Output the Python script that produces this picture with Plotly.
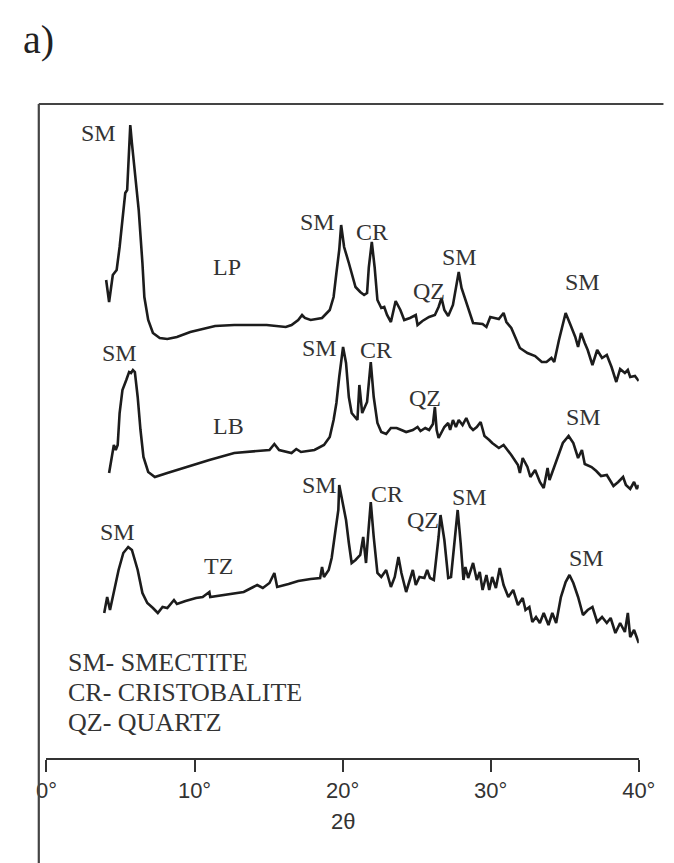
import plotly.graph_objects as go

# ---------------- data (2-theta in degrees, intensity in arbitrary offset units) ----------------
lp_2theta = [4.03, 4.23, 4.48, 4.74, 4.94, 5.19, 5.32, 5.45, 5.58, 5.66, 5.77, 6.03, 6.23, 6.48, 6.61,
             6.87, 7.19, 7.65, 8.16, 8.81, 9.71, 11.39, 12.68, 14.87, 16.16, 16.55, 17.0, 17.26, 17.45,
             17.84, 18.61, 19.13, 19.39, 19.58, 19.77, 19.90, 20.10, 20.42, 20.87, 21.19, 21.45, 21.65,
             21.77, 21.97, 22.16, 22.35, 22.61, 22.81, 23.0, 23.26, 23.58, 23.90, 24.16, 24.55, 24.94,
             25.06, 25.39, 25.84, 26.23, 26.48, 26.68, 26.87, 27.13, 27.45, 27.65, 27.84, 28.03, 28.29,
             28.48, 28.81, 29.45, 29.71, 29.97, 30.55, 30.87, 31.06, 31.39, 31.65, 31.97, 32.48, 33.0,
             33.45, 33.77, 34.10, 34.29, 34.61, 34.87, 35.06, 35.39, 35.71, 35.90, 36.10, 36.35, 36.55,
             36.87, 37.19, 37.52, 37.84, 38.16, 38.48, 38.74, 39.06, 39.26, 39.42, 39.74, 40.0]
lp_counts = [583, 561, 588, 593, 616, 650, 670, 673, 716, 738, 720, 683, 653, 600, 566,
             543, 530, 525, 524, 526, 531, 537, 538, 538, 536, 538, 543, 548, 545,
             543, 545, 553, 566, 590, 613, 638, 616, 600, 576, 571, 568, 570,
             596, 621, 596, 563, 555, 556, 548, 541, 562, 553, 543, 545, 548,
             538, 542, 546, 548, 556, 565, 553, 547, 558, 576, 591, 575, 563,
             553, 540, 539, 536, 546, 544, 550, 541, 535, 526, 515, 510, 507,
             501, 501, 505, 501, 523, 538, 550, 538, 526, 516, 530, 520, 513,
             498, 513, 505, 508, 496, 481, 494, 490, 493, 486, 487, 482]

lb_2theta = [4.23, 4.48, 4.55, 4.68, 4.81, 4.94, 5.13, 5.39, 5.58, 5.71, 5.84, 5.97, 6.16, 6.35, 6.55,
             6.87, 7.32, 8.16, 9.45, 11.0, 12.68, 14.42, 15.06, 15.39, 15.71, 16.55, 16.87, 17.19,
             18.10, 18.74, 19.13, 19.39, 19.58, 19.77, 20.03, 20.23, 20.42, 20.61, 20.87, 21.0, 21.13,
             21.32, 21.65, 21.90, 22.10, 22.35, 22.61, 22.94, 23.26, 23.65, 23.97, 24.29, 24.74, 25.06,
             25.26, 25.58, 25.84, 26.10, 26.23, 26.35, 26.48, 26.68, 26.87, 27.13, 27.26, 27.45, 27.65,
             27.84, 28.10, 28.35, 28.61, 28.81, 29.06, 29.32, 29.58, 29.90, 30.10, 30.55, 30.87, 31.39,
             31.84, 31.97, 32.16, 32.48, 32.68, 33.0, 33.32, 33.58, 33.84, 33.97, 34.23, 34.55, 34.87,
             35.26, 35.58, 35.90, 36.16, 36.35, 36.81, 37.13, 37.45, 37.84, 38.29, 38.61, 38.94, 39.13,
             39.42, 39.68, 39.87, 40.0]
lb_counts = [390, 410, 418, 413, 418, 450, 473, 483, 491, 490, 493, 491, 466, 433, 406,
             391, 386, 390, 396, 403, 410, 412, 413, 419, 413, 410, 414, 411,
             413, 418, 426, 443, 460, 486, 516, 500, 466, 450, 445, 443, 478,
             450, 461, 501, 466, 440, 431, 429, 435, 435, 433, 431, 433, 436,
             432, 435, 433, 439, 456, 433, 425, 430, 436, 440, 433, 443, 436,
             443, 438, 445, 436, 433, 436, 441, 427, 423, 420, 415, 418, 408,
             398, 390, 405, 396, 386, 393, 381, 375, 395, 383, 394, 408, 420,
             427, 420, 405, 413, 399, 396, 392, 387, 388, 377, 381, 386, 378,
             374, 381, 374, 378]

tz_2theta = [3.90, 4.10, 4.29, 4.55, 4.87, 5.19, 5.52, 5.77, 6.16, 6.48, 6.81, 7.19, 7.52, 7.84, 8.16,
             8.61, 8.81, 9.39, 10.10, 10.55, 11.0, 11.06, 12.03, 12.68, 13.32, 13.97, 14.23, 14.61,
             15.06, 15.39, 15.58, 16.35, 17.0, 17.84, 18.48, 18.61, 18.74, 19.06, 19.26, 19.52, 19.71,
             19.77, 19.97, 20.23, 20.42, 20.61, 20.87, 21.19, 21.39, 21.58, 21.71, 21.90, 22.10, 22.35,
             22.61, 22.94, 23.26, 23.52, 23.77, 23.97, 24.29, 24.55, 24.74, 24.94, 25.19, 25.52, 25.71,
             25.90, 26.16, 26.48, 26.61, 26.87, 27.13, 27.32, 27.52, 27.77, 27.97, 28.16, 28.29, 28.48,
             28.81, 29.06, 29.26, 29.45, 29.71, 29.90, 30.10, 30.35, 30.61, 30.87, 31.19, 31.52, 31.84,
             32.16, 32.35, 32.61, 32.81, 33.06, 33.32, 33.58, 33.90, 34.16, 34.42, 34.74, 35.06, 35.32,
             35.58, 35.90, 36.23, 36.55, 36.87, 37.19, 37.52, 37.84, 38.10, 38.42, 38.74, 39.06, 39.26,
             39.42, 39.68, 40.0]
tz_counts = [250, 266, 253, 270, 293, 310, 316, 313, 293, 270, 260, 255, 250, 256, 255,
             263, 259, 262, 265, 266, 271, 266, 268, 270, 271, 276, 278, 275,
             280, 290, 276, 279, 282, 284, 285, 296, 286, 293, 305, 333, 353,
             378, 361, 343, 320, 300, 303, 308, 326, 300, 326, 361, 326, 290,
             286, 293, 276, 286, 306, 290, 271, 285, 293, 278, 286, 285, 293,
             285, 283, 326, 348, 323, 285, 286, 316, 353, 320, 283, 296, 285,
             300, 283, 291, 273, 288, 273, 286, 275, 295, 278, 266, 273, 258,
             265, 253, 256, 241, 246, 240, 250, 238, 250, 240, 266, 281, 288,
             280, 266, 248, 253, 256, 241, 246, 240, 245, 230, 240, 231, 250,
             226, 233, 220]

# peak labels: (text, 2theta, intensity)
peak_text = ["SM", "SM", "CR", "QZ", "SM", "SM", "LP",
             "SM", "SM", "CR", "QZ", "SM", "LB",
             "SM", "SM", "CR", "QZ", "SM", "SM", "TZ"]
peak_x = [3.50, 18.32, 22.0, 25.83, 27.9, 36.18, 12.17,
          4.92, 18.45, 22.27, 25.57, 36.25, 12.3,
          4.79, 18.45, 22.98, 25.44, 28.54, 36.44, 11.65]
peak_y = [730, 641, 631, 572, 606, 581, 596,
          510, 515, 513, 465, 446, 437,
          331, 378, 369, 343, 366, 305, 297]

key_lines = ["SM- SMECTITE", "CR- CRISTOBALITE", "QZ- QUARTZ"]
tick_vals = [0, 10, 20, 30, 40]
tick_text = ["0°", "10°", "20°", "30°", "40°"]
x_title = "2θ"

W, H = 674, 863
LINE = "#1c1c1c"
TXT = "#333333"
SERIF = "Liberation Serif, Times New Roman, serif"
SANS = "Liberation Sans, Arial, sans-serif"

fig = go.Figure()
for xs, ys, name in [(lp_2theta, lp_counts, "LP"), (lb_2theta, lb_counts, "LB"), (tz_2theta, tz_counts, "TZ")]:
    fig.add_trace(go.Scatter(x=xs, y=ys, mode="lines", name=name,
                             line=dict(color=LINE, width=2.6), showlegend=False,
                             hoverinfo="skip"))

for t, x, y in zip(peak_text, peak_x, peak_y):
    fig.add_annotation(x=x, y=y, xref="x", yref="y", text=t, showarrow=False,
                       font=dict(family=SERIF, size=24, color=TXT),
                       xanchor="center", yanchor="middle")

key_y = [201, 171, 141]
for t, y in zip(key_lines, key_y):
    fig.add_annotation(x=1.29, y=y, xref="x", yref="y", text=t, showarrow=False,
                       font=dict(family=SERIF, size=26, color=TXT),
                       xanchor="left", yanchor="middle")

# axis title
fig.add_annotation(x=20, y=H - 821, xref="x", yref="y", text=x_title, showarrow=False,
                   font=dict(family=SANS, size=22, color=TXT), xanchor="center", yanchor="middle")

fig.add_annotation(x=10 / W, y=1 - 40 / H, xref="paper", yref="paper", text="a)",
                   showarrow=False, font=dict(family=SERIF, size=40, color="#222"),
                   xanchor="left", yanchor="middle")

# frame (left and top border)
fig.add_shape(type="line", xref="paper", yref="paper", x0=29 / W, x1=29 / W, y0=0, y1=1 - 104 / H,
              line=dict(color="#444", width=2.2))
fig.add_shape(type="line", xref="paper", yref="paper", x0=29 / W, x1=1.01, y0=1 - 104 / H, y1=1 - 104 / H,
              line=dict(color="#444", width=2.2))

fig.update_layout(
    width=W, height=H, margin=dict(l=0, r=0, t=0, b=0),
    paper_bgcolor="white", plot_bgcolor="white",
    xaxis=dict(domain=[37 / W, 655 / W], range=[0, 40], anchor="free", position=(H - 759) / H,
               showline=True, linecolor="#333", linewidth=2, showgrid=False, zeroline=False,
               ticks="outside", ticklen=12, tickwidth=2, tickcolor="#333",
               tickvals=tick_vals, ticktext=tick_text,
               tickfont=dict(family=SANS, size=22, color=TXT)),
    yaxis=dict(domain=[0, 1], range=[0, H], visible=False, fixedrange=True),
)

fig.write_html("out.html")
